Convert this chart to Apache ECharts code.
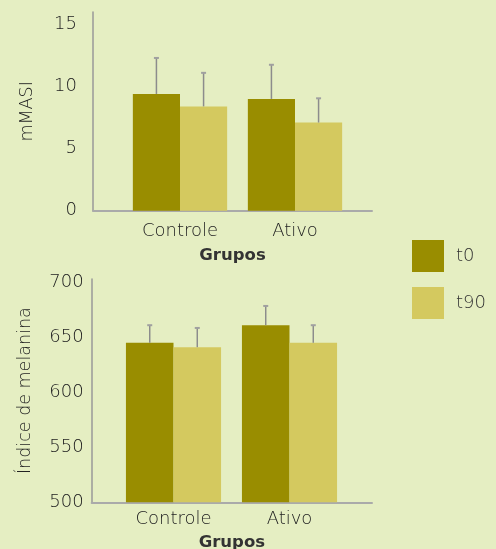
<!DOCTYPE html>
<html><head><meta charset="utf-8">
<script src="https://cdn.jsdelivr.net/npm/echarts@6/dist/echarts.min.js"></script>
<style>html,body{margin:0;padding:0;background:#e5eec2;}#c{width:496px;height:549px;}</style>
</head><body><div id="c"></div>
<script>
const categories = ['Controle', 'Ativo'];
const seriesNames = ['t0', 't90'];
const masiT0 = [9.4, 9.0];
const masiT90 = [8.4, 7.1];
const masiT0Err = [2.9, 2.75];
const masiT90Err = [2.7, 1.95];
const melT0 = [645, 661];
const melT90 = [641, 645];
const melT0Err = [16, 17.5];
const melT90Err = [17.5, 16];

const C0 = '#998d00', C1 = '#d4c95f';
const FONT = 'DejaVu Sans';
const W = 200;
const TXT = '#222222';
const GAP = 0.18;

function errData(means, errs) { return means.map((m, i) => [i, m, errs[i]]); }
function errSeries(means, errs, side, xi, yi) {
  return {
    type: 'custom', xAxisIndex: xi, yAxisIndex: yi, z: 5,
    data: errData(means, errs),
    encode: { x: 0, y: 1 },
    renderItem: function (params, api) {
      const ci = api.value(0), m = api.value(1), e = api.value(2);
      const base = api.coord([ci, m]);
      const tip = api.coord([ci, m + e]);
      const band = api.size([1, 0])[0];
      const x = base[0] + side * band * (1 - GAP) / 4;
      return { type: 'group', children: [
        { type: 'line', shape: { x1: x, y1: base[1], x2: x, y2: tip[1] }, style: { stroke: '#8c8c8c', lineWidth: 1.5 } },
        { type: 'line', shape: { x1: x - 2.5, y1: tip[1], x2: x + 2.5, y2: tip[1] }, style: { stroke: '#a0a0a0', lineWidth: 2 } }
      ] };
    }
  };
}
function frameX(gi, gap) {
  return { gridIndex: gi, type: 'value', min: 0, max: 1, axisLabel: { show: false }, axisTick: { show: false }, splitLine: { show: false },
    axisLine: { show: true, onZero: false, lineStyle: { color: '#aaaaaa', width: 2 } },
    name: 'Grupos', nameLocation: 'middle', nameGap: gap,
    nameTextStyle: { fontFamily: FONT, fontSize: 16.5, fontWeight: 'bold', color: '#333' } };
}
function frameY(gi, min, max, interval, name, margin) {
  return { gridIndex: gi, type: 'value', min: min, max: max, interval: interval,
    axisLine: { show: true, onZero: false, lineStyle: { color: '#999999', width: 1.5 } }, axisTick: { show: false }, splitLine: { show: false },
    axisLabel: { showMaxLabel: false, margin: margin, padding: [0, 0, 6, 0], fontFamily: FONT, fontWeight: W, fontSize: 18, color: TXT },
    name: name, nameLocation: 'middle', nameGap: 57,
    nameTextStyle: { fontFamily: FONT, fontWeight: W, fontSize: 17.5, color: TXT } };
}
function barX(gi, margin) {
  return { gridIndex: gi, type: 'category', data: categories, axisLine: { show: false }, axisTick: { show: false },
    axisLabel: { margin: margin, fontFamily: FONT, fontWeight: W, fontSize: 18, color: TXT } };
}
function barY(gi, min, max) { return { gridIndex: gi, type: 'value', min: min, max: max, show: false }; }
function bar(name, data, color, xi, yi) {
  return { name: name, type: 'bar', xAxisIndex: xi, yAxisIndex: yi, data: data, barGap: '0%', barCategoryGap: (GAP * 100) + '%', itemStyle: { color: color } };
}
function grid(o) { return Object.assign({ outerBoundsMode: 'none', containLabel: false }, o); }

const chart = echarts.init(document.getElementById('c'));
chart.setOption({
  backgroundColor: '#e5eec2',
  animation: false,
  legend: { data: seriesNames, orient: 'vertical', left: 412, top: 240, padding: 0, itemWidth: 32, itemHeight: 32, itemGap: 15, icon: 'rect',
    textStyle: { fontFamily: FONT, fontWeight: W, fontSize: 18, color: '#333', padding: [0, 0, 0, 7] } },
  grid: [
    grid({ left: 93, right: 124, top: 12, bottom: 338.3 }),
    grid({ left: 122.5, width: 230, top: 12, bottom: 338.3 }),
    grid({ left: 91.7, right: 124, top: 279, bottom: 46.7 }),
    grid({ left: 115.5, width: 232, top: 279, bottom: 46.7 })
  ],
  xAxis: [frameX(0, 37), barX(1, 12), frameX(2, 32), barX(3, 8)],
  yAxis: [frameY(0, 0, 16, 5, 'mMASI', 16), barY(1, 0, 16), frameY(2, 500, 703, 50, 'Índice de melanina', 8), barY(3, 500, 703)],
  series: [
    bar('t0', masiT0, C0, 1, 1), bar('t90', masiT90, C1, 1, 1),
    errSeries(masiT0, masiT0Err, -1, 1, 1), errSeries(masiT90, masiT90Err, 1, 1, 1),
    bar('t0', melT0, C0, 3, 3), bar('t90', melT90, C1, 3, 3),
    errSeries(melT0, melT0Err, -1, 3, 3), errSeries(melT90, melT90Err, 1, 3, 3)
  ]
});
</script></body></html>
